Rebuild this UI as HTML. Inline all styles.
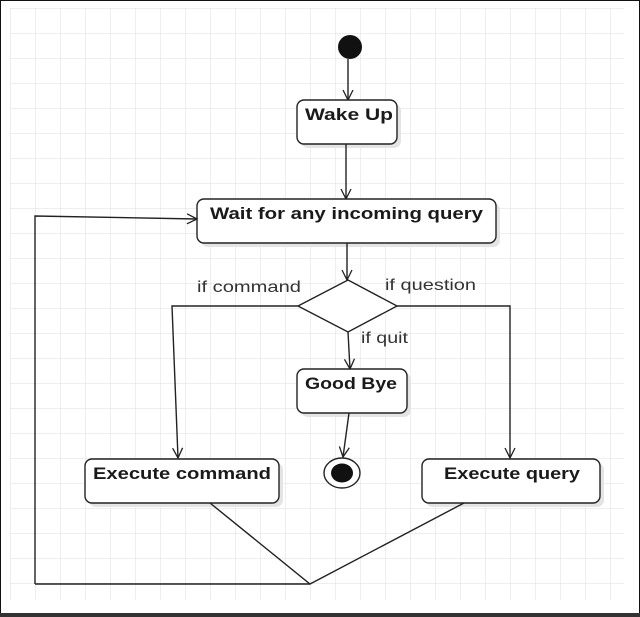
<!DOCTYPE html>
<html><head><style>
html,body{margin:0;padding:0;background:#fff;}
svg{display:block;}
text{font-family:"Liberation Sans",Arial,sans-serif;}
</style></head><body>
<svg width="640" height="617" viewBox="0 0 640 617" xmlns="http://www.w3.org/2000/svg">
<defs>
<pattern id="g" x="10" y="8" width="25" height="25" patternUnits="userSpaceOnUse">
<path d="M0 0H25M0 0V25" stroke="#dcdcdc" stroke-width="1" fill="none"/>
</pattern>
<marker id="a" viewBox="0 0 12 12" refX="11" refY="6" markerWidth="12" markerHeight="12" markerUnits="userSpaceOnUse" orient="auto">
<path d="M1 1L11 6L1 11" fill="none" stroke="#222" stroke-width="1.3"/>
</marker>
</defs>
<rect x="0" y="0" width="640" height="617" fill="#fff"/>
<rect x="10" y="8" width="614" height="592" fill="url(#g)"/>
<rect x="0.5" y="0.5" width="639" height="616" fill="none" stroke="#111" stroke-width="1"/>
<rect x="0" y="613" width="640" height="4" fill="#333"/>
<g fill="none" stroke="#222" stroke-width="1.4">
<g stroke="none" fill="#e4e4e4">
<rect x="301" y="104" width="100" height="44" rx="7"/>
<rect x="201" y="203" width="299" height="44" rx="7"/>
<rect x="301" y="373" width="110" height="44" rx="7"/>
<rect x="89" y="463" width="194" height="44" rx="7"/>
<rect x="426" y="463" width="178" height="44" rx="7"/>
</g>
<circle cx="350" cy="47" r="12" fill="#111" stroke="none"/>
<line x1="348" y1="59" x2="348" y2="100" marker-end="url(#a)"/>
<rect x="297" y="100" width="100" height="44" rx="7" fill="#fff"/>
<line x1="346" y1="144" x2="346" y2="199" marker-end="url(#a)"/>
<rect x="197" y="199" width="299" height="44" rx="7" fill="#fff"/>
<line x1="347" y1="243" x2="347" y2="280" marker-end="url(#a)"/>
<polygon points="348,280 397,306 348,332 298,306" fill="#fff"/>
<polyline points="35,584 35,216 197,219" marker-end="url(#a)"/>
<polyline points="298,306 172,306 178,458" marker-end="url(#a)"/>
<polyline points="397,306 510,306 510,458" marker-end="url(#a)"/>
<line x1="348" y1="332" x2="350" y2="369" marker-end="url(#a)"/>
<rect x="297" y="369" width="110" height="44" rx="7" fill="#fff"/>
<line x1="349" y1="413" x2="343" y2="457" marker-end="url(#a)"/>
<ellipse cx="342" cy="473" rx="18" ry="15" fill="#fff"/>
<ellipse cx="342" cy="473" rx="11" ry="9.5" fill="#111" stroke="none"/>
<rect x="85" y="459" width="194" height="44" rx="7" fill="#fff"/>
<rect x="422" y="459" width="178" height="44" rx="7" fill="#fff"/>
<polyline points="210,503 310,584 464,503"/>
<line x1="35" y1="584" x2="310" y2="584"/>
</g>
<g fill="#1a1a1a" font-weight="bold" font-size="17">
<text x="305" y="120" textLength="88" lengthAdjust="spacingAndGlyphs">Wake Up</text>
<text x="210" y="219" textLength="273" lengthAdjust="spacingAndGlyphs">Wait for any incoming query</text>
<text x="305" y="389" textLength="92" lengthAdjust="spacingAndGlyphs">Good Bye</text>
<text x="93" y="479" textLength="178" lengthAdjust="spacingAndGlyphs">Execute command</text>
<text x="444" y="479" textLength="136" lengthAdjust="spacingAndGlyphs">Execute query</text>
</g>
<g fill="#333" font-size="16">
<text x="197" y="292" textLength="104" lengthAdjust="spacingAndGlyphs">if command</text>
<text x="385" y="290" textLength="91" lengthAdjust="spacingAndGlyphs">if question</text>
<text x="361" y="343" textLength="47" lengthAdjust="spacingAndGlyphs">if quit</text>
</g>
</svg>
</body></html>
